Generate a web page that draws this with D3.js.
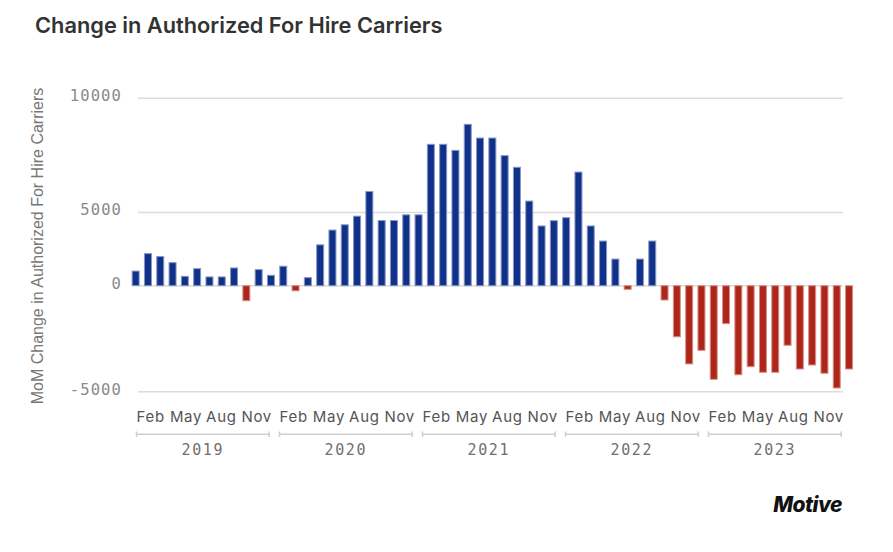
<!DOCTYPE html>
<html>
<head>
<meta charset="utf-8">
<script src="https://cdn.jsdelivr.net/npm/d3@7"></script>
<style>
  body { margin: 0; background: #fff; }
  svg { display: block; }
</style>
</head>
<body>
<svg id="chart" width="893" height="552"></svg>
<script>
// MoM change, one bar per month (Feb 2019 - Dec 2023)
const months = [
  "Feb 2019","Mar 2019","Apr 2019","May 2019","Jun 2019","Jul 2019","Aug 2019","Sep 2019","Oct 2019","Nov 2019","Dec 2019",
  "Jan 2020","Feb 2020","Mar 2020","Apr 2020","May 2020","Jun 2020","Jul 2020","Aug 2020","Sep 2020","Oct 2020","Nov 2020","Dec 2020",
  "Jan 2021","Feb 2021","Mar 2021","Apr 2021","May 2021","Jun 2021","Jul 2021","Aug 2021","Sep 2021","Oct 2021","Nov 2021","Dec 2021",
  "Jan 2022","Feb 2022","Mar 2022","Apr 2022","May 2022","Jun 2022","Jul 2022","Aug 2022","Sep 2022","Oct 2022","Nov 2022","Dec 2022",
  "Jan 2023","Feb 2023","Mar 2023","Apr 2023","May 2023","Jun 2023","Jul 2023","Aug 2023","Sep 2023","Oct 2023","Nov 2023","Dec 2023"
];
const changes = [
  1000, 2190, 1990, 1575, 640, 1165, 600, 600, 1210, -710, 1100,
  710, 1330, -240, 550, 2790, 3800, 4160, 4750, 5920, 4450, 4450, 4840,
  4840, 7985, 7985, 7720, 8860, 8260, 8260, 7490, 6980, 5500, 4080, 4440,
  4645, 6770, 4080, 3050, 1820, -170, 1820, 3050, -675, -2410, -3690, -3050,
  -4415, -1790, -4200, -3820, -4085, -4085, -2810, -3930, -3740, -4130, -4825, -3930
];
const years = ["2019", "2020", "2021", "2022", "2023"];
const monthNames = ["Jan","Feb","Mar","Apr","May","Jun","Jul","Aug","Sep","Oct","Nov","Dec"];
const tickMonths = ["Feb", "May", "Aug", "Nov"];
const yTicks = [-5000, 0, 5000, 10000];

const svg = d3.select("#chart");
const monoFont = "'DejaVu Sans Mono', monospace";
const sansFont = "Inter, 'Noto Sans', sans-serif";

const x = d3.scaleBand()
  .domain(months)
  .range([129.5, 855.2])
  .paddingInner(0.35)
  .paddingOuter(0.175);

// the source chart's value axis is not evenly spaced, so map it piecewise
const y = d3.scaleLinear()
  .domain([-5000, 0, 5000, 10000])
  .range([391.7, 285.7, 212.5, 98.3]);

// title
svg.append("text")
  .attr("x", 35)
  .attr("y", 33)
  .attr("font-family", sansFont)
  .attr("font-weight", 600)
  .attr("font-size", 21.8)
  .attr("fill", "#333")
  .text("Change in Authorized For Hire Carriers");

// gridlines
svg.append("g")
  .selectAll("line")
  .data(yTicks)
  .join("line")
  .attr("x1", 138)
  .attr("x2", 843)
  .attr("y1", d => y(d))
  .attr("y2", d => y(d))
  .attr("stroke", "#dcdcdc")
  .attr("stroke-width", 1.5);

// y tick labels
const yAxis = svg.append("g")
  .attr("transform", "translate(122,0)")
  .call(d3.axisLeft(y).tickValues(yTicks).tickSize(0).tickPadding(0).tickFormat(d => String(d)));
yAxis.select(".domain").remove();
yAxis.selectAll("text")
  .attr("font-family", monoFont)
  .attr("font-size", 15.5)
  .attr("letter-spacing", 1.1)
  .attr("fill", "#8a8a8a")
  .attr("dy", "0.15em");

// y title
svg.append("text")
  .attr("transform", "translate(43,246) rotate(-90)")
  .attr("text-anchor", "middle")
  .attr("font-family", "'Liberation Sans', Arial, sans-serif")
  .attr("font-size", 16)
  .attr("fill", "#777")
  .text("MoM Change in Authorized For Hire Carriers");

// bars
svg.append("g")
  .selectAll("rect")
  .data(months.map((m, i) => ({ m, v: changes[i] })))
  .join("rect")
  .attr("x", d => x(d.m) + 0.5)
  .attr("width", x.bandwidth() - 1)
  .attr("y", d => y(Math.max(0, d.v)))
  .attr("height", d => Math.abs(y(d.v) - y(0)))
  .attr("fill", d => d.v >= 0 ? "#10318a" : "#ad2619")
  .attr("stroke", d => d.v >= 0 ? "#8796c4" : "#d99088")
  .attr("stroke-width", 1);

// month / year axis
const yearBand = d3.scaleBand()
  .domain(years)
  .range([136, 841.7])
  .paddingInner(0.065);
const monthPos = d3.scalePoint()
  .domain(monthNames)
  .range([2.9, 132.5]);

const yearG = svg.append("g")
  .selectAll("g")
  .data(years)
  .join("g")
  .attr("transform", d => `translate(${yearBand(d)},0)`);

yearG.selectAll("text.month")
  .data(tickMonths)
  .join("text")
  .attr("class", "month")
  .attr("x", d => monthPos(d))
  .attr("y", 417)
  .attr("dy", "0.35em")
  .attr("text-anchor", "middle")
  .attr("font-family", sansFont)
  .attr("font-size", 15)
  .attr("letter-spacing", 0.7)
  .attr("fill", "#555")
  .text(d => d);

yearG.append("path")
  .attr("d", `M0.5,431.5V437M0.5,434.3H${yearBand.bandwidth() - 0.5}M${yearBand.bandwidth() - 0.5},431.5V437`)
  .attr("fill", "none")
  .attr("stroke", "#cfcfcf")
  .attr("stroke-width", 1.5);

yearG.append("text")
  .attr("x", yearBand.bandwidth() / 2)
  .attr("y", 449.7)
  .attr("dy", "0.35em")
  .attr("text-anchor", "middle")
  .attr("font-family", monoFont)
  .attr("font-size", 15)
  .attr("letter-spacing", 1.6)
  .attr("fill", "#707070")
  .text(d => d);

// logo
svg.append("text")
  .attr("x", 842)
  .attr("y", 512)
  .attr("text-anchor", "end")
  .attr("font-family", sansFont)
  .attr("font-weight", 800)
  .attr("font-style", "italic")
  .attr("font-size", 21)
  .attr("letter-spacing", -0.5)
  .attr("fill", "#111")
  .text("Motive");
</script>
</body>
</html>
